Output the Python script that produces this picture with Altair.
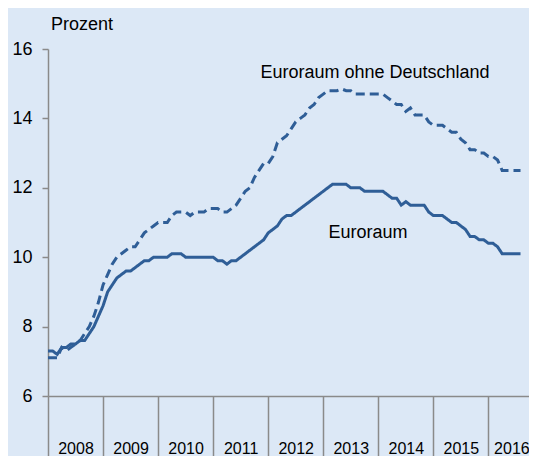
import altair as alt
import pandas as pd

# Monthly unemployment rates, Jan 2008 .. Aug 2016 (percent)
euroraum = [
    7.3, 7.3, 7.2, 7.4, 7.4, 7.5, 7.5, 7.6, 7.6, 7.8, 8.0, 8.3,
    8.6, 9.0, 9.2, 9.4, 9.5, 9.6, 9.6, 9.7, 9.8, 9.9, 9.9, 10.0,
    10.0, 10.0, 10.0, 10.1, 10.1, 10.1, 10.0, 10.0, 10.0, 10.0, 10.0, 10.0,
    10.0, 9.9, 9.9, 9.8, 9.9, 9.9, 10.0, 10.1, 10.2, 10.3, 10.4, 10.5,
    10.7, 10.8, 10.9, 11.1, 11.2, 11.2, 11.3, 11.4, 11.5, 11.6, 11.7, 11.8,
    11.9, 12.0, 12.1, 12.1, 12.1, 12.1, 12.0, 12.0, 12.0, 11.9, 11.9, 11.9,
    11.9, 11.9, 11.8, 11.7, 11.7, 11.5, 11.6, 11.5, 11.5, 11.5, 11.5, 11.3,
    11.2, 11.2, 11.2, 11.1, 11.0, 11.0, 10.9, 10.8, 10.6, 10.6, 10.5, 10.5,
    10.4, 10.4, 10.3, 10.1, 10.1, 10.1, 10.1, 10.1,
]
ohne_de = [
    7.1, 7.1, 7.1, 7.4, 7.3, 7.4, 7.5, 7.6, 7.8, 8.0, 8.3, 8.7,
    9.2, 9.5, 9.8, 10.0, 10.1, 10.2, 10.3, 10.3, 10.5, 10.7, 10.8, 10.9,
    11.0, 11.0, 11.0, 11.2, 11.3, 11.3, 11.3, 11.2, 11.3, 11.3, 11.3, 11.4,
    11.4, 11.4, 11.3, 11.3, 11.4, 11.5, 11.7, 11.9, 12.0, 12.3, 12.5, 12.7,
    12.7, 12.9, 13.3, 13.4, 13.5, 13.7, 13.9, 14.0, 14.1, 14.3, 14.4, 14.6,
    14.7, 14.8, 14.8, 14.8, 14.85, 14.8, 14.8, 14.7, 14.7, 14.7, 14.7, 14.7,
    14.7, 14.7, 14.6, 14.5, 14.4, 14.4, 14.2, 14.3, 14.1, 14.1, 14.1, 13.9,
    13.8, 13.8, 13.8, 13.7, 13.6, 13.6, 13.4, 13.3, 13.1, 13.1, 13.0, 13.0,
    12.9, 12.9, 12.8, 12.5, 12.5, 12.5, 12.5, 12.5,
]
years = list(range(2008, 2017))
y_ticks = [6, 8, 10, 12, 14, 16]
series_names = ["Euroraum", "Euroraum ohne Deutschland"]
unit_label = "Prozent"

t = [2008 + i / 12 for i in range(len(euroraum))]
df = pd.DataFrame({
    "t": t * 2,
    "v": euroraum + ohne_de,
    "s": [series_names[0]] * len(euroraum) + [series_names[1]] * len(ohne_de),
})

BLUE = "#2f5e97"
GREY = "#8a8a8a"
FONT = "Liberation Sans"

x_scale = alt.Scale(domain=[2008, 2008 + 481 / 55.05], nice=False, zero=False)
y_scale = alt.Scale(domain=[6, 16], nice=False, zero=False)

lines = alt.Chart(df).mark_line(color=BLUE, strokeWidth=3).encode(
    x=alt.X("t:Q", scale=x_scale,
            axis=alt.Axis(values=years, title=None, format="d",
                          tickSize=60, tickWidth=1.5, tickColor=GREY,
                          domainColor=GREY, domainWidth=1.5,
                          labelOffset={"condition": {"test": "datum.value == 2016", "value": 23},
                                       "value": 27.5},
                          labelBaseline="alphabetic",
                          labelPadding=-3, labelFont=FONT, labelFontSize=16,
                          labelColor="#000", labelFlush=False, labelOverlap=False,
                          labelBound=False, grid=False)),
    y=alt.Y("v:Q", scale=y_scale,
            axis=alt.Axis(values=y_ticks, title=None, tickSize=6, tickWidth=1.5,
                          tickColor=GREY, domainColor=GREY, domainWidth=1.5,
                          labelPadding=10, labelFont=FONT, labelFontSize=18,
                          labelColor="#000", grid=False)),
    strokeDash=alt.StrokeDash("s:N", legend=None,
                              scale=alt.Scale(domain=series_names,
                                              range=[[1, 0], [9, 5]])),
    detail="s:N",
)

def label(text, x, y, align):
    return alt.Chart(pd.DataFrame({"label": [text]})).mark_text(
        font=FONT, fontSize=18, color="#000", align=align, baseline="alphabetic"
    ).encode(x=alt.value(x), y=alt.value(y), text="label:N")

chart = alt.layer(
    lines,
    label(unit_label, 3, -19.5, "left"),
    label(series_names[1], 327, 28.7, "center"),
    label(series_names[0], 320, 188.7, "center"),
).properties(
    width=481, height=347,
    autosize=alt.AutoSizeParams(type="none"),
    padding={"left": 40, "top": 41, "right": 0, "bottom": 60},
    background="#dce8f6",
).configure_view(stroke=None)

chart.save("out.html", embed_options={"renderer": "svg", "actions": False})
